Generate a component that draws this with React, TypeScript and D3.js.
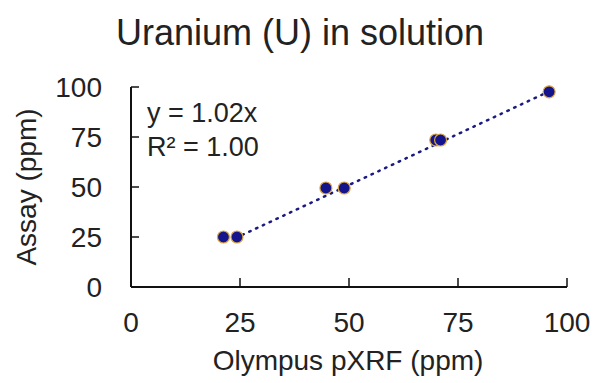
import React from "react";
import * as d3 from "d3";

// Olympus pXRF reading vs assay, ppm
const pxrfValues = [21.2, 24.3, 44.7, 48.9, 69.9, 71.0, 95.9];
const assayValues = [25.0, 25.0, 49.5, 49.5, 73.5, 73.5, 97.6];
const xTicks = [0, 25, 50, 75, 100];
const yTicks = [0, 25, 50, 75, 100];
const trendSlope = 1.02;
const equationLines = ["y = 1.02x", "R² = 1.00"];

const W = 606;
const H = 383;
const margin = { top: 87, right: 39, bottom: 96, left: 131 };
const font = "'Liberation Sans', Arial, sans-serif";
const textColor = "#222";

export default function App() {
  const innerW = W - margin.left - margin.right;
  const innerH = H - margin.top - margin.bottom;

  const x = d3.scaleLinear().domain([0, 100]).range([0, innerW]);
  const y = d3.scaleLinear().domain([0, 100]).range([innerH, 0]);

  const points = pxrfValues.map((v, i) => ({ x: v, y: assayValues[i] }));

  const trendX = [24, d3.max(pxrfValues) as number];
  const trend = d3
    .line<number>()
    .x((d) => x(d))
    .y((d) => y(d * trendSlope))(trendX);

  return (
    <svg
      width={W}
      height={H}
      style={{ position: "absolute", left: 0, top: 0, background: "#fff" }}
      fontFamily={font}
    >
      <text x={300} y={45} textAnchor="middle" fontSize={36} fill={textColor}>
        Uranium (U) in solution
      </text>
      <g transform={`translate(${margin.left},${margin.top})`}>
        {/* axes */}
        <line x1={0} x2={0} y1={0} y2={innerH} stroke="#111" strokeWidth={2} />
        <line x1={0} x2={innerW} y1={innerH} y2={innerH} stroke="#111" strokeWidth={2} />
        {yTicks.map((t) => (
          <g key={"y" + t} transform={`translate(0,${y(t)})`}>
            <line x1={0} x2={8} stroke="#111" strokeWidth={1.5} />
            <text x={-29} dy="0.36em" textAnchor="end" fontSize={28} fill={textColor}>
              {t}
            </text>
          </g>
        ))}
        {xTicks.map((t) => (
          <g key={"x" + t} transform={`translate(${x(t)},${innerH})`}>
            {t > 0 && <line y1={0} y2={-9} stroke="#111" strokeWidth={1.5} />}
            <text y={45} textAnchor="middle" fontSize={28} fill={textColor}>
              {t}
            </text>
          </g>
        ))}

        {/* trendline */}
        <path
          d={trend || ""}
          fill="none"
          stroke="#1a1a80"
          strokeWidth={2.5}
          strokeDasharray="1.5 6"
          strokeLinecap="round"
        />

        {/* points */}
        {points.map((p, i) => (
          <circle
            key={i}
            cx={x(p.x)}
            cy={y(p.y)}
            r={6}
            fill="#14148c"
            stroke="#d9a645"
            strokeWidth={1.2}
          />
        ))}

        {/* equation */}
        {equationLines.map((s, i) => (
          <text key={s} x={16} y={35 + i * 34} fontSize={27} fill={textColor}>
            {s}
          </text>
        ))}
      </g>

      <text x={348} y={370} textAnchor="middle" fontSize={28} fill={textColor}>
        Olympus pXRF (ppm)
      </text>
      <text
        transform={`translate(36,${margin.top + innerH / 2}) rotate(-90)`}
        textAnchor="middle"
        fontSize={28}
        fill={textColor}
      >
        Assay (ppm)
      </text>
    </svg>
  );
}
